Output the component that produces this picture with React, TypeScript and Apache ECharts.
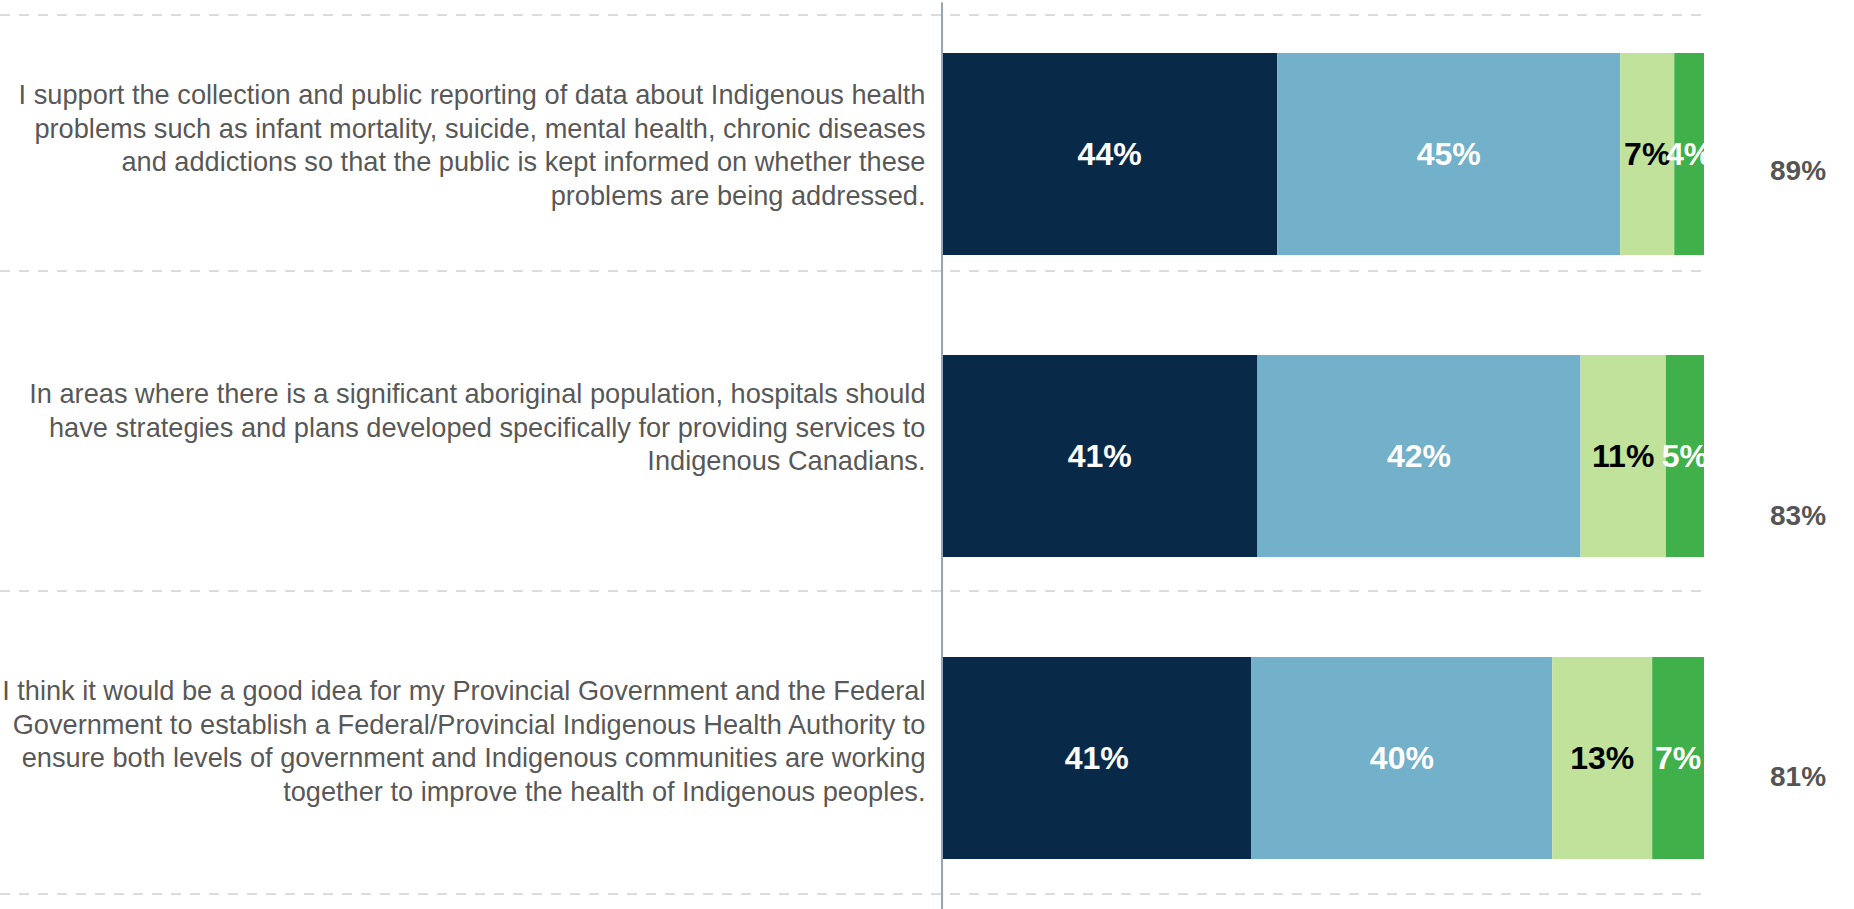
import React, { useEffect, useRef } from "react";
import * as echarts from "echarts";

const categories = [
  "I support the collection and public reporting of data about Indigenous health\nproblems such as infant mortality, suicide, mental health, chronic diseases\nand addictions so that the public is kept informed on whether these\nproblems are being addressed.",
  "In areas where there is a significant aboriginal population, hospitals should\nhave strategies and plans developed specifically for providing services to\nIndigenous Canadians.",
  "I think it would be a good idea for my Provincial Government and the Federal\nGovernment to establish a Federal/Provincial Indigenous Health Authority to\nensure both levels of government and Indigenous communities are working\ntogether to improve the health of Indigenous peoples.",
];

const stronglySupport = [44.0, 41.4, 40.6];
const somewhatSupport = [45.0, 42.4, 39.5];
const somewhatOppose = [7.1, 11.2, 13.1];
const stronglyOppose = [3.9, 5.0, 6.8];
const totalSupport = [89, 83, 81];

const seriesNames = ["Strongly support", "Somewhat support", "Somewhat oppose", "Strongly oppose"];
const seriesColors = ["#082a48", "#73b0c9", "#c0e29a", "#40b04b"];
const labelColors = ["#ffffff", "#ffffff", "#000000", "#ffffff"];

const FONT = "'Liberation Sans', Arial, sans-serif";

export default function App() {
  const ref = useRef<HTMLDivElement>(null);

  useEffect(() => {
    if (!ref.current) return;
    const chart = echarts.init(ref.current, null, { renderer: "svg", width: 1854, height: 909 });

    const values = [stronglySupport, somewhatSupport, somewhatOppose, stronglyOppose];
    const barSeries = values.map((arr, k) => ({
      name: seriesNames[k],
      type: "bar",
      stack: "total",
      barWidth: 202,
      data: arr,
      itemStyle: { color: seriesColors[k] },
      label: {
        show: true,
        position: "inside",
        formatter: (p: any) => Math.round(p.value) + "%",
        color: labelColors[k],
        fontSize: 32,
        fontWeight: "bold",
        fontFamily: FONT,
      },
      z: 3,
    }));

    const catOffsets = [-9, -29, -17];
    const totalOffsets = [16, 59, 18];

    const option: any = {
      animation: false,
      backgroundColor: "#ffffff",
      grid: { left: 942, top: 3, width: 762, height: 907, containLabel: false },
      xAxis: { type: "value", min: 0, max: 100, show: false },
      yAxis: {
        type: "category",
        data: categories,
        inverse: true,
        axisLine: { show: true, lineStyle: { color: "#97a4bf", width: 2 } },
        axisTick: { show: false },
        axisLabel: { show: false },
        splitLine: { show: false },
        z: 5,
      },
      graphic: [15, 271, 591, 894].map((y) => ({
        type: "line",
        z: 0,
        shape: { x1: 0, y1: y, x2: 1704, y2: y },
        style: { stroke: "#dcdcdc", lineWidth: 2, lineDash: [10, 9] },
      })),
      series: [
        ...barSeries,
        {
          name: "categoryLabels",
          type: "scatter",
          symbolSize: 1,
          clip: false,
          itemStyle: { color: "rgba(0,0,0,0)" },
          silent: true,
          data: categories.map((c, i) => ({
            value: [0, i],
            label: { offset: [0, catOffsets[i]] },
          })),
          label: {
            show: true,
            position: "left",
            distance: 16,
            align: "right",
            formatter: (p: any) => categories[p.dataIndex],
            fontSize: 27.2,
            lineHeight: 33.5,
            color: "#2a2a2a",
            fontFamily: FONT,
          },
        },
        {
          name: "totals",
          type: "scatter",
          symbolSize: 1,
          clip: false,
          itemStyle: { color: "rgba(0,0,0,0)" },
          silent: true,
          data: totalSupport.map((v, i) => ({
            value: [100, i],
            label: { offset: [94, totalOffsets[i]] },
          })),
          label: {
            show: true,
            position: "inside",
            formatter: (p: any) => totalSupport[p.dataIndex] + "%",
            fontSize: 28,
            fontWeight: "bold",
            color: "#262626",
            fontFamily: FONT,
          },
        },
      ],
    };

    chart.setOption(option);
    return () => chart.dispose();
  }, []);

  return (
    <div
      ref={ref}
      style={{ position: "absolute", left: 0, top: 0, width: 1854, height: 909 }}
    />
  );
}
